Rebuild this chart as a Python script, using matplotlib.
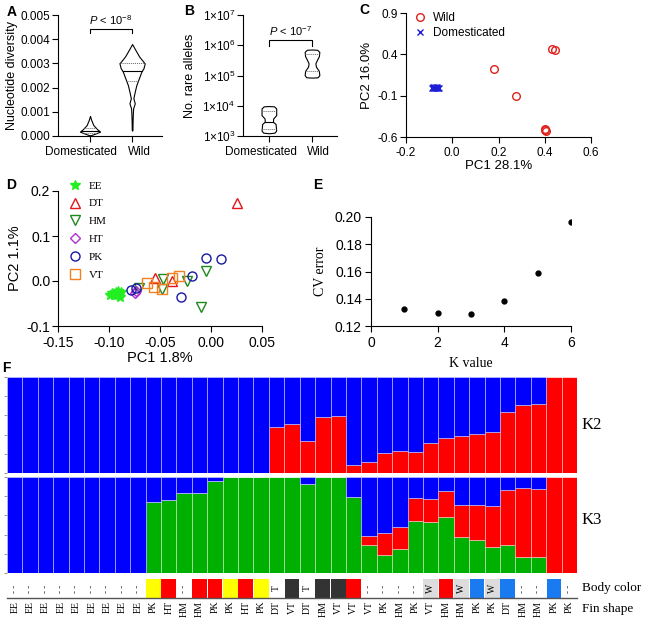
import numpy as np
import matplotlib
matplotlib.use('Agg')
import matplotlib.pyplot as plt
from matplotlib.lines import Line2D

plt.rcParams['font.family'] = ['Liberation Sans', 'DejaVu Sans']
plt.rcParams['axes.unicode_minus'] = False
plt.rcParams['mathtext.fontset'] = 'custom'
plt.rcParams['mathtext.rm'] = 'Liberation Sans'
plt.rcParams['mathtext.it'] = 'Liberation Sans:italic'
plt.rcParams['mathtext.default'] = 'regular'
SERIF = ['Liberation Serif', 'DejaVu Serif']

# ---- A: nucleotide diversity violins (outline: level, half width)
a_dom_y = [0.00083, 0.00066, 0.00045, 0.00028, 0.00018, 0.00011, 0.00004, 0.00003]
a_dom_w = [0, 0.03, 0.08, 0.17, 0.24, 0.14, 0.03, 0]
a_wild_y = [0.0038, 0.00355, 0.00328, 0.0030, 0.0028, 0.00266, 0.00238, 0.0021,
            0.00183, 0.00156, 0.00135, 0.00114, 0.00087, 0.0005, 0.00025, 0.00022]
a_wild_w = [0, 0.08, 0.17, 0.30, 0.27, 0.22, 0.16, 0.10,
            0.063, 0.03, 0.063, 0.024, 0.016, 0.01, 0.008, 0]
a_dom_med, a_dom_q = 0.00022, [0.00014, 0.00032]
a_wild_med, a_wild_q = 0.00268, [0.00229, 0.0030]

# ---- B: rare alleles violins (log10 level, half width)
b_dom_logy = [3.99, 3.98, 3.91, 3.69, 3.58, 3.47, 3.40, 3.18, 3.11, 3.09]
b_dom_w = [0, 0.12, 0.17, 0.17, 0.10, 0.095, 0.155, 0.17, 0.13, 0]
b_wild_logy = [5.86, 5.85, 5.78, 5.64, 5.50, 5.40, 5.29, 5.15, 5.01, 4.94, 4.93]
b_wild_w = [0, 0.12, 0.17, 0.16, 0.11, 0.078, 0.093, 0.16, 0.17, 0.13, 0]
b_dom_med, b_dom_q = 3.47, [3.22, 3.835]
b_wild_q = [5.143, 5.725]

groups = ['Domesticated', 'Wild']

# ---- C: PCA wild vs domesticated
c_wild_x = [0.182, 0.276, 0.430, 0.444, 0.403, 0.405, 0.400]
c_wild_y = [0.22, -0.11, 0.46, 0.45, -0.50, -0.53, -0.52]
c_dom_x = [-0.088, -0.085, -0.082, -0.080, -0.078, -0.075, -0.072, -0.070, -0.067, -0.064, -0.060, -0.057]
c_dom_y = [-0.005, 0.0, -0.008, -0.003, 0.002, -0.006, -0.001, -0.009, -0.004, 0.001, -0.006, -0.003]

# ---- D: PCA of domesticated strains
d_pts = {
    'EE': ([-0.099, -0.097, -0.095, -0.093, -0.092, -0.091, -0.090, -0.089, -0.088],
           [-0.030, -0.027, -0.031, -0.025, -0.030, -0.022, -0.028, -0.035, -0.024]),
    'DT': ([0.025, -0.0546, -0.0385], [0.174, 0.0067, -0.0007]),
    'HM': ([-0.0474, -0.0484, -0.0703, -0.0231, -0.0048, -0.0097], [0.005, -0.0185, -0.0148, -0.0007, 0.0222, -0.0578]),
    'HT': ([-0.0746, -0.074], [-0.0267, -0.022]),
    'PK': ([-0.0785, -0.0736, -0.0293, -0.0189, -0.0051, 0.0097], [-0.0193, -0.0148, -0.0356, 0.0104, 0.0511, 0.0481]),
    'VT': ([-0.0631, -0.0556, -0.0477, -0.0385, -0.0313], [-0.0044, -0.0133, -0.0185, 0.0067, 0.0104]),
}
d_style = {
    'EE': dict(marker='*', color='#22ee22', filled=True, ms=7),
    'DT': dict(marker='^', color='#e8141c', filled=False, ms=6.5),
    'HM': dict(marker='v', color='#1e8a1e', filled=False, ms=6.5),
    'HT': dict(marker='D', color='#b030d0', filled=False, ms=5),
    'PK': dict(marker='o', color='#1818a0', filled=False, ms=6.5),
    'VT': dict(marker='s', color='#f08020', filled=False, ms=6.5),
}

# ---- E: CV error
e_k = [1, 2, 3, 4, 5, 6]
e_cv = [0.1326, 0.1296, 0.1289, 0.1387, 0.1591, 0.1963]

# ---- F: admixture
k2_red = [0] * 17 + [0.48, 0.51, 0.33, 0.58, 0.59, 0.08, 0.115, 0.21, 0.225, 0.215,
                     0.315, 0.365, 0.385, 0.41, 0.425, 0.64, 0.71, 0.715, 1.0, 1.0]
k3_green = [0] * 9 + [0.74, 0.764, 0.833, 0.833, 0.96, 0.997, 1, 1, 1, 1, 0.927, 1, 1,
                      0.788, 0.288, 0.19, 0.253, 0.538, 0.531, 0.58, 0.372, 0.347,
                      0.271, 0.288, 0.163, 0.163, 0, 0]
k3_red = [0] * 23 + [0.094, 0.226, 0.222, 0.24, 0.236, 0.271, 0.34, 0.358, 0.424,
                     0.58, 0.722, 0.712, 1.0, 1.0]
body = ['-'] * 9 + ['Y', 'R', '-', 'R', 'R', 'Y', 'R', 'Y', 'T', 'K', 'T', 'K', 'K', 'R',
                    '-', '-', '-', '-', 'W', 'R', 'W', 'B', 'W', 'B', '-', '-', 'B', '-']
fin = ['EE'] * 9 + ['PK', 'HT', 'HM', 'HM', 'PK', 'PK', 'HT', 'PK', 'DT', 'VT', 'DT', 'HM',
                    'VT', 'VT', 'VT', 'PK', 'HM', 'PK', 'VT', 'HM', 'HM', 'PK', 'PK', 'DT',
                    'HM', 'HM', 'PK', 'PK']
body_col = {'Y': '#ffff00', 'R': '#ff0000', 'K': '#333333', 'B': '#1a7af0',
            'W': '#dcdcdc', 'T': 'white', '-': 'white'}

W, H = 648, 622
fig = plt.figure(figsize=(6.48, 6.22), dpi=100)


def box(l, t, r, b):
    return [l / W, 1 - b / H, (r - l) / W, (b - t) / H]


def clean(ax, lw=0.8, ypad=1.5):
    ax.spines[['top', 'right']].set_visible(False)
    for s in ('left', 'bottom'):
        ax.spines[s].set_linewidth(lw)
    ax.tick_params(width=lw, length=4)
    ax.tick_params(axis='y', pad=ypad)


def labels(ax, xl, yl, xpos, ypos, size, family=None):
    # axis titles placed by their centres
    kw = dict(fontsize=size)
    if family:
        kw['family'] = family
    if xl:
        ax.set_xlabel(xl, va='center', **kw)
        ax.xaxis.set_label_coords(0.5, xpos)
    ax.set_ylabel(yl, va='center', **kw)
    ax.yaxis.set_label_coords(ypos, 0.5)


def violin(ax, x0, ys, ws):
    ws = np.asarray(ws)
    ax.fill_betweenx(ys, x0 - ws, x0 + ws, facecolor='white', edgecolor='black', lw=0.8)


def stat_line(ax, x0, ys, ws, yv, dotted, log=False):
    yy = np.log10(ys) if log else np.asarray(ys)
    v = np.log10(yv) if log else yv
    w = np.interp(v, yy[::-1], np.asarray(ws)[::-1])
    if dotted:
        ax.plot([x0 - w, x0 + w], [yv, yv], color='#666666', lw=0.7, ls=(0, (1, 1)))
    else:
        ax.plot([x0 - w, x0 + w], [yv, yv], color='black', lw=0.8)


def group_names(ax, shifts, ypos):
    ax.set_xticks([0, 1], ['', ''])
    for i, (g, s) in enumerate(zip(groups, shifts)):
        ax.text(i + s, ypos, g, transform=ax.get_xaxis_transform(), ha='center',
                va='center', fontsize=8.5)


# ---------- A
axA = fig.add_axes(box(58, 15, 162, 136))
violin(axA, 0, a_dom_y, a_dom_w)
violin(axA, 1, a_wild_y, a_wild_w)
stat_line(axA, 0, a_dom_y, a_dom_w, a_dom_med, False)
for q in a_dom_q:
    stat_line(axA, 0, a_dom_y, a_dom_w, q, True)
stat_line(axA, 1, a_wild_y, a_wild_w, a_wild_med, False)
for q in a_wild_q:
    stat_line(axA, 1, a_wild_y, a_wild_w, q, True)
axA.plot([0, 0, 1, 1], [0.00424, 0.00442, 0.00442, 0.00424], color='black', lw=0.8)
axA.text(0.5, 0.00477, r'$\it{P}$ < 10$^{-8}$', ha='center', va='center', fontsize=8)
axA.set_xlim(-0.76, 1.71)
axA.set_ylim(0, 0.005)
a_ticks = [0, 0.001, 0.002, 0.003, 0.004, 0.005]
axA.set_yticks(a_ticks, ['%.3f' % t for t in a_ticks], fontsize=8.5)
group_names(axA, [-0.21, 0.17], -0.13)
labels(axA, None, 'Nucleotide diversity', 0, -0.44, 9)
clean(axA)

# ---------- B
axB = fig.add_axes(box(243, 15, 337, 136))
axB.set_yscale('log')
bdy = 10 ** np.asarray(b_dom_logy)
bwy = 10 ** np.asarray(b_wild_logy)
violin(axB, 0, bdy, b_dom_w)
violin(axB, 1, bwy, b_wild_w)
stat_line(axB, 0, bdy, b_dom_w, 10 ** b_dom_med, False, log=True)
for q in b_dom_q:
    stat_line(axB, 0, bdy, b_dom_w, 10 ** q, True, log=True)
for q in b_wild_q:
    stat_line(axB, 1, bwy, b_wild_w, 10 ** q, True, log=True)
axB.plot([0, 0, 1, 1], [9.3e5, 1.46e6, 1.46e6, 9.3e5], color='black', lw=0.8)
axB.text(0.5, 2.95e6, r'$\it{P}$ < 10$^{-7}$', ha='center', va='center', fontsize=8)
axB.set_xlim(-0.6, 1.58)
axB.set_ylim(1e3, 1e7)
b_ticks = [1e3, 1e4, 1e5, 1e6, 1e7]
axB.set_yticks(b_ticks, ['1×10$^{%d}$' % e for e in range(3, 8)], fontsize=8.5)
axB.yaxis.set_minor_locator(matplotlib.ticker.NullLocator())
group_names(axB, [-0.19, 0.15], -0.13)
labels(axB, None, 'No. rare alleles', 0, -0.56, 9)
clean(axB)

# ---------- C
axC = fig.add_axes(box(406, 13, 591, 137))
axC.plot(c_wild_x, c_wild_y, 'o', mfc='none', mec='#e0201b', mew=1.0, ms=5.5, label='Wild')
axC.plot(c_dom_x, c_dom_y, 'x', color='#1f1fd6', mew=1.0, ms=4, label='Domesticated')
axC.set_xlim(-0.2, 0.6)
axC.set_ylim(-0.6, 0.9)
axC.set_xticks([-0.2, 0.0, 0.2, 0.4, 0.6], ['-0.2', '0.0', '0.2', '0.4', '0.6'], fontsize=8.5)
axC.set_yticks([-0.6, -0.1, 0.4, 0.9], ['-0.6', '-0.1', '0.4', '0.9'], fontsize=8.5)
labels(axC, 'PC1 28.1%', 'PC2 16.0%', -0.234, -0.21, 9.5)
axC.legend(loc='upper left', bbox_to_anchor=(0.046, 1.01), frameon=False, fontsize=8.5,
           handlelength=1, handletextpad=0.6, labelspacing=0.25, borderpad=0, borderaxespad=0)
clean(axC)

# ---------- D
axD = fig.add_axes(box(58, 191, 262, 326))
handles = []
for name, (xs, ys) in d_pts.items():
    st = d_style[name]
    kw = dict(marker=st['marker'], ls='none', ms=st['ms'], mew=1.0)
    if st['filled']:
        kw.update(color=st['color'])
    else:
        kw.update(mfc='none', mec=st['color'])
    axD.plot(xs, ys, **kw)
    handles.append(Line2D([], [], label=name, **kw))
axD.set_xlim(-0.15, 0.05)
axD.set_ylim(-0.1, 0.2)
axD.set_xticks([-0.15, -0.10, -0.05, 0.00, 0.05], ['-0.15', '-0.10', '-0.05', '0.00', '0.05'], fontsize=10)
axD.set_yticks([-0.1, 0.0, 0.1, 0.2], ['-0.1', '0.0', '0.1', '0.2'], fontsize=10)
labels(axD, 'PC1 1.8%', 'PC2 1.1%', -0.237, -0.21, 10.5)
axD.legend(handles=handles, loc='upper left', bbox_to_anchor=(0.056, 1.075), frameon=False,
           prop={'family': SERIF, 'size': 8}, handlelength=1, handletextpad=0.75,
           labelspacing=0.72, borderpad=0, borderaxespad=0)
clean(axD)

# ---------- E
axE = fig.add_axes(box(371, 217, 571, 326))
axE.plot(e_k, e_cv, 'o', color='black', ms=3.5)
axE.set_xlim(0, 6)
axE.set_ylim(0.12, 0.20)
axE.set_xticks([0, 2, 4, 6], ['0', '2', '4', '6'], fontsize=10)
axE.set_yticks([0.12, 0.14, 0.16, 0.18, 0.20], ['0.12', '0.14', '0.16', '0.18', '0.20'], fontsize=10)
labels(axE, 'K value', 'CV error', -0.34, -0.255, 10, SERIF)
clean(axE, ypad=2.5)

# ---------- F
n = len(fin)
x = np.arange(n)
k2_red = np.asarray(k2_red)
k3_green = np.asarray(k3_green)
k3_red = np.asarray(k3_red)
sep = dict(width=1.0, edgecolor=(1, 1, 1, 0.45), linewidth=0.6)

axK2 = fig.add_axes(box(7, 377, 577, 473))
axK2.bar(x, k2_red, color='#ff0000', **sep)
axK2.bar(x, 1 - k2_red, bottom=k2_red, color='#0000ff', **sep)
axK3 = fig.add_axes(box(7, 477, 577, 573))
axK3.bar(x, k3_green, color='#00b000', **sep)
axK3.bar(x, k3_red, bottom=k3_green, color='#ff0000', **sep)
axK3.bar(x, 1 - k3_green - k3_red, bottom=k3_green + k3_red, color='#0000ff', **sep)
for ax in (axK2, axK3):
    ax.set_xlim(-0.5, n - 0.5)
    ax.set_ylim(0, 1)
    for s in ax.spines.values():
        s.set_visible(False)
    ax.set_xticks([])
    ax.set_yticks([0, 0.2, 0.4, 0.6, 0.8, 1.0], [])
    ax.tick_params(axis='y', length=2.5, width=0.6, color='#888888')
fig.text(582 / W, 1 - 425 / H, 'K2', family=SERIF, fontsize=12, va='center')
fig.text(582 / W, 1 - 520 / H, 'K3', family=SERIF, fontsize=12, va='center')

axBody = fig.add_axes(box(7, 579, 577, 598))
for i, c in enumerate(body):
    if c in ('Y', 'R', 'K', 'B', 'W'):
        axBody.bar(i, 1, width=0.95, color=body_col[c])
    if c == '-':
        axBody.text(i, 0.5, '- -', rotation=90, ha='center', va='center', fontsize=6.5,
                    fontweight='bold', color='#333333', family=SERIF)
    elif c in ('T', 'W'):
        axBody.text(i, 0.5, c, rotation=90, ha='center', va='center', fontsize=7, family=SERIF)
axBody.set_xlim(-0.5, n - 0.5)
axBody.set_ylim(0, 1)
for s in ('top', 'right', 'left'):
    axBody.spines[s].set_visible(False)
axBody.spines['bottom'].set_color('#555555')
axBody.spines['bottom'].set_linewidth(1.0)
axBody.set_yticks([])
axBody.set_xticks(x, fin, rotation=90, fontsize=7, family=SERIF)
axBody.tick_params(axis='x', length=0, pad=2)
fig.text(582 / W, 1 - 588 / H, 'Body color', family=SERIF, fontsize=9.5, va='center')
fig.text(582 / W, 1 - 609 / H, 'Fin shape', family=SERIF, fontsize=9.5, va='center')

# ---------- panel letters
for lab, px, py in [('A', 7, 12), ('B', 184, 11), ('C', 359, 10), ('D', 6, 185),
                    ('E', 313, 185), ('F', 2, 368)]:
    fig.text(px / W, 1 - py / H, lab, fontsize=10, fontweight='bold', va='center')

fig.savefig('out.png', dpi=100)
